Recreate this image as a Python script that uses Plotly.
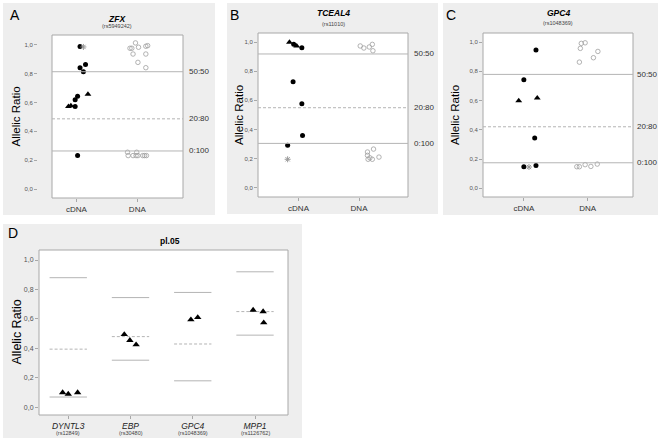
import plotly.graph_objects as go

W, H = 661, 441
FONT = "Liberation Sans, Arial, sans-serif"

# ---------------- data ----------------
groups_top = ["cDNA", "DNA"]
ytick_vals = [0.0, 0.2, 0.4, 0.6, 0.8, 1.0]
ytick_text = ["0,0", "0,2", "0,4", "0,6", "0,8", "1,0"]
ref_labels = ["50:50", "20:80", "0:100"]

# Panel A : ZFX (rs5949242)
A_circ_y = [0.99, 0.842, 0.865, 0.814, 0.643, 0.619, 0.573, 0.232]
A_circ_dx = [0.06, 0.06, 0.15, 0.115, 0.02, -0.02, -0.02, 0.02]
A_tri_y = [0.657, 0.578, 0.573]
A_tri_dx = [0.19, -0.09, -0.13]
A_star_y = [0.986]
A_star_dx = [0.115]
A_dna_y = [0.977, 0.977, 1.014, 0.937, 0.984, 0.879, 0.991, 0.995, 0.937, 0.842,
           0.255, 0.232, 0.255, 0.232, 0.232, 0.232, 0.232, 0.232, 0.232]
A_dna_dx = [-0.12, -0.09, -0.03, -0.07, 0.02, 0.01, 0.14, 0.17, 0.14, 0.14,
            -0.16, -0.15, -0.01, -0.07, -0.02, 0.01, 0.09, 0.12, 0.15]
A_ref = [0.814, 0.487, 0.264]

# Panel B : TCEAL4 (rs11010)
B_circ_y = [0.984, 0.961, 0.728, 0.577, 0.359, 0.291]
B_circ_dx = [-0.08, 0.055, -0.09, 0.055, 0.066, -0.18]
B_tri_y = [0.998, 0.973]
B_tri_dx = [-0.15, -0.03]
B_star_y = [0.195]
B_star_dx = [-0.18]
B_dna_y = [0.973, 0.959, 0.966, 0.984, 0.94,
           0.265, 0.245, 0.222, 0.195, 0.195, 0.21, 0.205]
B_dna_dx = [0.02, 0.08, 0.17, 0.22, 0.23,
            0.24, 0.14, 0.14, 0.15, 0.22, 0.33, 0.18]
B_ref = [0.918, 0.549, 0.304]

# Panel C : GPC4 (rs1048369)
C_circ_y = [0.945, 0.743, 0.344, 0.148, 0.157]
C_circ_dx = [0.19, 0.0, 0.17, 0.0, 0.19]
C_tri_y = [0.599, 0.617]
C_tri_dx = [-0.08, 0.21]
C_star_y = [0.146]
C_star_dx = [0.08]
C_dna_y = [0.863, 0.957, 0.991, 0.995, 0.893, 0.936,
           0.148, 0.148, 0.162, 0.150, 0.166]
C_dna_dx = [-0.13, -0.115, -0.10, -0.04, 0.09, 0.16,
            -0.17, -0.13, -0.04, 0.05, 0.15]
C_ref = [0.779, 0.421, 0.175]

# Panel D : pl.05
D_genes = ["DYNTL3", "EBP", "GPC4", "MPP1"]
D_rs = ["(rs12849)", "(rs30480)", "(rs1048369)", "(rs1126762)"]
D_upper = [0.88, 0.745, 0.78, 0.92]
D_mid = [0.395, 0.48, 0.43, 0.65]
D_lower = [0.07, 0.32, 0.18, 0.49]
D_tri_gene = [0, 0, 0, 1, 1, 1, 2, 2, 3, 3, 3]
D_tri_y = [0.10, 0.09, 0.10, 0.495, 0.455, 0.425, 0.595, 0.61, 0.66, 0.65, 0.575]
D_tri_dx = [-0.09, 0.0, 0.15, -0.10, -0.01, 0.09, -0.03, 0.08, -0.03, 0.13, 0.14]

# ---------------- layout geometry (pixels) ----------------
def fx(p):
    return p / W

def fy(p):
    return 1 - p / H

fig = go.Figure()

LINE_C = "#b4b4b4"
FRAME_C = "#a8a8a8"
TICK_C = "#555555"
BG_C = "#eeeeee"

panels = [
    dict(sfx="", frame=(52, 183, 35, 198), xr=[-0.40, 1.75], yr=[-0.0625, 1.069],
         axis_x=37, bg=(3, 215, 3, 215), letter=("A", 8, 15), title="ZFX",
         rs="(rs5949242)", ty=(19, 26),
         circ=(A_circ_y, A_circ_dx), tri=(A_tri_y, A_tri_dx), star=(A_star_y, A_star_dx),
         dna=(A_dna_y, A_dna_dx), ref=A_ref, lab_x=187),
    dict(sfx="2", frame=(258, 408, 33, 197), xr=[-0.67, 1.81], yr=[-0.064, 1.062],
         axis_x=258, bg=(227, 438, 3, 214), letter=("B", 228, 15), title="TCEAL4",
         rs="(rs11010)", ty=(13, 24),
         circ=(B_circ_y, B_circ_dx), tri=(B_tri_y, B_tri_dx), star=(B_star_y, B_star_dx),
         dna=(B_dna_y, B_dna_dx), ref=B_ref, lab_x=412),
    dict(sfx="3", frame=(483, 633, 33, 197), xr=[-0.64, 1.71], yr=[-0.059, 1.062],
         axis_x=483, bg=(443, 658, 3, 215), letter=("C", 444, 15), title="GPC4",
         rs="(rs1048369)", ty=(13, 23),
         circ=(C_circ_y, C_circ_dx), tri=(C_tri_y, C_tri_dx), star=(C_star_y, C_star_dx),
         dna=(C_dna_y, C_dna_dx), ref=C_ref, lab_x=635),
]

shapes = []
annotations = []

def add_frame(sfx):
    xr = "x" + sfx + " domain"
    yr = "y" + sfx + " domain"
    shapes.append(dict(type="rect", xref=xr, yref=yr, x0=0, x1=1, y0=0, y1=1,
                       fillcolor="white", line=dict(color=FRAME_C, width=1), layer="below"))

for p in panels:
    sfx = p["sfx"]
    x0, x1, y0, y1 = p["frame"]
    b = p["bg"]
    shapes.append(dict(type="rect", xref="paper", yref="paper", x0=fx(b[0]), x1=fx(b[1]),
                       y0=fy(b[3]), y1=fy(b[2]), fillcolor=BG_C, line=dict(width=0),
                       layer="below"))
    add_frame(sfx)
    xa = dict(domain=[fx(x0), fx(x1)], range=p["xr"], anchor="y" + sfx,
              tickvals=[0, 1], ticktext=groups_top, ticks="outside", ticklen=3,
              tickcolor=FRAME_C, showgrid=False, zeroline=False, showline=False,
              tickfont=dict(size=8, color="#333333", family=FONT))
    ya = dict(domain=[fy(y1), fy(y0)], range=p["yr"], tickvals=ytick_vals,
              ticktext=ytick_text, ticks="outside", ticklen=3, tickcolor=FRAME_C,
              showgrid=False, zeroline=False, showline=False,
              tickfont=dict(size=6, color=TICK_C, family=FONT))
    if p["axis_x"] != x0:
        ya["anchor"] = "free"
        ya["position"] = fx(p["axis_x"])
    else:
        ya["anchor"] = "x" + sfx
    fig.layout["xaxis" + sfx] = xa
    fig.layout["yaxis" + sfx] = ya
    xref, yref = "x" + sfx, "y" + sfx
    for i, v in enumerate(p["ref"]):
        shapes.append(dict(type="line", xref=xref + " domain", yref=yref, x0=0, x1=1,
                           y0=v, y1=v, line=dict(color=LINE_C, width=1,
                                                  dash="solid" if i != 1 else "3px,2px")))
        annotations.append(dict(text=ref_labels[i], xref="paper", yref=yref,
                                x=fx(p["lab_x"]), y=v, xanchor="left", yanchor="middle",
                                showarrow=False, font=dict(size=8, color="#333333", family=FONT)))
    cy, cdx = p["circ"]
    ty_, tdx = p["tri"]
    sy, sdx = p["star"]
    dy, ddx = p["dna"]
    fig.add_trace(go.Scatter(x=[0 + d for d in cdx], y=cy, mode="markers", xaxis=xref, yaxis=yref,
                             marker=dict(symbol="circle", size=5, color="black"), showlegend=False))
    fig.add_trace(go.Scatter(x=[0 + d for d in tdx], y=ty_, mode="markers", xaxis=xref, yaxis=yref,
                             marker=dict(symbol="triangle-up", size=6, color="black"), showlegend=False))
    fig.add_trace(go.Scatter(x=[0 + d for d in sdx], y=sy, mode="markers", xaxis=xref, yaxis=yref,
                             marker=dict(symbol="asterisk-open", size=5, color="#999999",
                                         line=dict(color="#999999", width=1)), showlegend=False))
    fig.add_trace(go.Scatter(x=[1 + d for d in ddx], y=dy, mode="markers", xaxis=xref, yaxis=yref,
                             marker=dict(symbol="circle-open", size=4.5, color="#a0a0a0",
                                         line=dict(color="#a0a0a0", width=0.8)), showlegend=False))
    cx = (x0 + x1) / 2
    annotations.append(dict(text="<b><i>" + p["title"] + "</i></b>", xref="paper", yref="paper",
                            x=fx(cx), y=fy(p["ty"][0]), showarrow=False, xanchor="center",
                            yanchor="middle", font=dict(size=8.5, color="black", family=FONT)))
    annotations.append(dict(text=p["rs"], xref="paper", yref="paper",
                            x=fx(cx), y=fy(p["ty"][1]), showarrow=False, xanchor="center",
                            yanchor="middle", font=dict(size=5.5, color="#444444", family=FONT)))
    L = p["letter"]
    annotations.append(dict(text=L[0], xref="paper", yref="paper", x=fx(L[1]), y=fy(L[2]),
                            showarrow=False, xanchor="left", yanchor="middle",
                            font=dict(size=14, color="black", family=FONT)))
    annotations.append(dict(text="Allelic Ratio", xref="paper", yref="paper",
                            x=fx(p["bg"][0] + 12), y=fy((y0 + y1) / 2), textangle=-90,
                            showarrow=False, xanchor="center", yanchor="middle",
                            font=dict(size=11.5, color="black", family=FONT)))

# ---------------- Panel D ----------------
dx0, dx1, dy0, dy1 = 39, 288, 250, 415
shapes.append(dict(type="rect", xref="paper", yref="paper", x0=fx(3), x1=fx(302),
                   y0=fy(438), y1=fy(224), fillcolor=BG_C, line=dict(width=0), layer="below"))
add_frame("4")
gx = list(range(len(D_genes)))
fig.layout["xaxis4"] = dict(domain=[fx(dx0), fx(dx1)], range=[-0.47, 3.53], anchor="y4",
                            tickvals=gx, ticktext=["<i>" + g + "</i>" for g in D_genes],
                            ticks="outside", ticklen=3, tickcolor=FRAME_C, showgrid=False,
                            zeroline=False, showline=False,
                            tickfont=dict(size=8.5, color="#222222", family=FONT))
fig.layout["yaxis4"] = dict(domain=[fy(dy1), fy(dy0)], range=[-0.052, 1.068], anchor="x4",
                            tickvals=ytick_vals, ticktext=ytick_text, ticks="outside",
                            ticklen=3, tickcolor=FRAME_C, showgrid=False, zeroline=False,
                            showline=False, tickfont=dict(size=7, color=TICK_C, family=FONT))
HALF = 0.3
for vals, dash in [(D_upper, "solid"), (D_mid, "3px,2px"), (D_lower, "solid")]:
    for g, v in zip(gx, vals):
        fig.add_trace(go.Scatter(x=[g - HALF, g + HALF], y=[v, v], mode="lines",
                                 xaxis="x4", yaxis="y4", hoverinfo="skip",
                                 line=dict(color=LINE_C, width=1, dash=dash), showlegend=False))
fig.add_trace(go.Scatter(x=[gx[g] + d for g, d in zip(D_tri_gene, D_tri_dx)], y=D_tri_y,
                         mode="markers", xaxis="x4", yaxis="y4",
                         marker=dict(symbol="triangle-up", size=6.5, color="black"),
                         showlegend=False))
for g, rs in zip(gx, D_rs):
    annotations.append(dict(text=rs, xref="x4", yref="paper", x=g, y=fy(433),
                            showarrow=False, xanchor="center", yanchor="middle",
                            font=dict(size=5.5, color="#444444", family=FONT)))
annotations.append(dict(text="<b>pl.05</b>", xref="paper", yref="paper", x=fx(170), y=fy(241),
                        showarrow=False, xanchor="center", yanchor="middle",
                        font=dict(size=8.5, color="black", family=FONT)))
annotations.append(dict(text="D", xref="paper", yref="paper", x=fx(6), y=fy(233),
                        showarrow=False, xanchor="left", yanchor="middle",
                        font=dict(size=14, color="black", family=FONT)))
annotations.append(dict(text="Allelic Ratio", xref="paper", yref="paper", x=fx(16),
                        y=fy((dy0 + dy1) / 2), textangle=-90, showarrow=False,
                        xanchor="center", yanchor="middle",
                        font=dict(size=12.5, color="black", family=FONT)))

fig.update_layout(width=W, height=H, margin=dict(l=0, r=0, t=0, b=0),
                  paper_bgcolor="white", plot_bgcolor="white",
                  shapes=shapes, annotations=annotations, showlegend=False,
                  font=dict(family=FONT), hovermode=False)
fig.write_html("out.html", config={"displayModeBar": False, "staticPlot": True},
               post_script="document.body.style.margin='0';document.body.style.overflow='hidden';")
